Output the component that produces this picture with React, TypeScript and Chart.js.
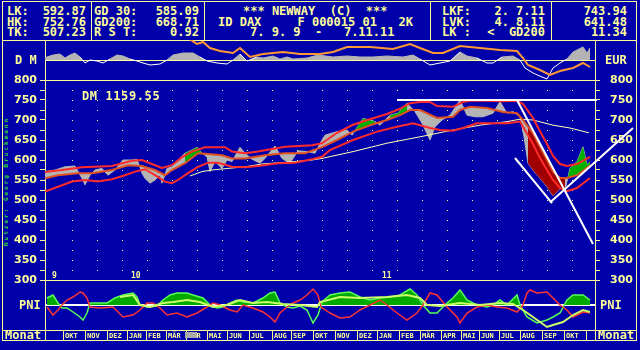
import React, { useEffect, useRef } from 'react';
import { Chart, registerables } from 'chart.js';

Chart.register(...registerables);

const BG = '#0000AA';
const FG = '#FFFF99';
const GRAY = '#B4B4B4';
const RED = '#FF2A2A';
const WHITE = '#FFFFFF';
const ORANGE = '#FF9933';
const CENTER = '#E05020';
const GREEN_FILL = '#00B000';
const CRASH = '#A00000';
const PALE = '#FFFFB0';
const MONO = '"DejaVu Sans Mono", monospace';

// ---------- main panel (x = trading day index from 7.9.2009) ----------
const priceDays = [0,10,20,30,37,40,45,50,57,63,70,78,87,92,97,100,105,110,115,117,122,127,133,140,147,152,157,162,165,170,177,182,187,195,200,207,215,220,230,237,245,253,262,270,277,280,292,302,307,318,330,335,345,353,362,370,377,385,390,397,405,415,422,430,438,448,455,462,468,475,479,483,488,495,502,508,515,520,525,532,538,542,545];
const priceVals = [571,575,583,585,554,538,562,575,579,562,575,600,600,602,567,554,542,550,562,542,579,583,600,617,625,632,617,608,571,596,579,600,596,632,617,602,592,604,635,604,592,623,621,617,650,662,671,675,662,704,696,687,712,717,742,721,692,650,683,700,712,750,712,708,708,717,746,717,721,708,658,592,575,554,533,510,529,525,579,596,633,587,596];

const centerDays = [0,13,33,47,67,83,97,110,120,127,140,153,163,177,187,200,220,240,260,277,292,308,325,342,355,365,375,392,408,415,425,442,458,472,478,488,495,502,508,515,522,532,545];
const centerVals = [554,562,567,567,575,587,585,575,562,575,592,617,615,612,604,604,612,617,617,632,650,671,687,700,712,725,725,705,708,725,733,730,720,717,700,667,633,600,571,555,555,562,586];

const upperDays = [0,17,37,67,87,97,110,117,127,137,147,160,180,187,200,213,230,240,267,277,292,308,325,342,355,365,375,385,392,408,418,425,442,458,472,478,488,495,502,508,515,522,532,545];
const upperVals = [570,575,582,585,598,600,587,580,587,607,621,632,632,621,617,621,629,633,637,642,668,688,702,715,728,742,745,745,735,733,745,748,748,747,748,740,705,672,640,610,590,585,590,608];

const lowerDays = [0,13,27,40,53,67,80,90,100,110,120,127,133,143,153,163,173,187,200,213,233,250,267,277,285,308,332,352,368,385,395,408,418,432,448,462,475,488,495,502,508,515,522,532,545];
const lowerVals = [521,533,546,550,546,552,562,571,577,562,546,542,550,567,583,593,593,583,582,585,592,593,602,608,625,650,671,683,692,680,675,673,680,692,692,692,696,640,605,575,550,530,522,530,555];

const gd200Days = [145,157,167,183,200,217,233,250,267,277,308,342,375,408,435,462,475,488,508,525,544];
const gd200Vals = [560,571,575,579,583,590,593,596,600,604,621,642,658,675,687,696,702,700,687,680,668];

const greenSpans = [[138,157],[286,296],[305,330],[340,366],[410,420],[520,546]];
const crashSpans = [[483,522]];

// white trend lines
const resistDays = [352, 552];
const resistVals = [750, 750];
const fallDays = [472, 548];
const fallVals = [750, 390];
const vLeftDays = [470, 507];
const vLeftVals = [605, 492];
const riseDays = [505, 588];
const riseVals = [494, 680];

// ---------- top panel (D M / EUR) ----------
const dmDays = [0,2,8,15,20,25,30,35,40,45,52,58,65,72,78,85,92,98,105,115,122,128,138,148,155,162,172,182,188,195,202,212,218,228,235,242,248,262,273,288,302,315,328,342,358,368,375,385,395,405,415,422,432,442,448,457,468,475,480,488,497,502,508,515,522,528,538,542,545];
const dmVals = [2,3,5,6,2,5,7,3,-3,0,-1,-3,1,5,4,1,-1,-3,-5,-4,0,5,7,7,3,-1,-3,-4,0,6,-1,3,2,4,1,3,1,2,5,3,4,3,3,4,3,5,1,-5,-3,-1,8,4,2,-3,-3,3,4,0,-8,-13,-17,-19,-8,-3,1,8,13,7,12];
const eurDays = [143,152,158,165,175,188,195,205,218,238,255,275,288,302,325,348,365,375,388,398,415,435,455,472,478,483,495,505,515,528,538,545];
const eurVals = [22,16,18,12,9,7,12,3,6,8,6,6,8,13,13,11,16,12,7,7,14,12,10,9,2,-5,-10,-15,-11,-8,-3,-7];

// ---------- PNI panel ----------
const pniGreenDays = [2,8,13,17,22,28,35,38,42,45,52,62,70,78,88,92,95,102,112,118,125,132,142,148,158,165,172,178,185,192,198,208,218,225,230,235,242,248,255,262,268,273,277,285,295,305,315,325,335,345,355,365,372,378,385,392,402,408,415,422,432,442,448,455,462,472,475,482,492,502,508,515,522,528,538,545];
const pniGreenVals = [7,10,2,-3,-3,-7,-12,-15,-8,2,2,2,7,10,12,8,0,-2,-1,5,10,12,12,10,7,0,-3,-2,2,5,3,2,7,12,13,2,-2,-3,-1,-5,-18,-10,3,10,12,13,8,5,7,8,10,16,10,0,-8,-8,2,7,15,5,0,-2,0,5,0,10,0,-12,-18,-15,-12,-8,5,10,10,5];
const pniRedDays = [2,8,13,17,22,28,35,38,42,45,55,68,78,88,95,102,108,115,122,132,142,152,162,168,175,185,192,198,208,218,225,230,235,242,248,255,262,268,273,276,285,295,305,315,325,335,342,352,362,372,378,385,392,402,412,415,422,432,442,452,462,472,478,482,485,492,502,508,515,522,528,538,545];
const pniRedVals = [-2,-10,-5,0,5,8,13,12,7,-2,-3,-2,-12,-10,-5,2,2,-3,-10,-8,-12,-8,-2,2,0,-5,-7,0,-3,-7,-12,-17,-8,-2,2,5,10,16,10,-2,-8,-13,-12,-5,0,5,0,-8,-15,-8,0,12,10,-2,-12,-18,-8,-2,0,-2,-3,-7,0,12,15,12,13,7,0,-5,-12,-7,-8];
const pniSigDays = [75,88,95,105,118,128,142,155,168,182,195,208,222,238,255,272,275,295,315,342,362,375,382,395,415,435,455,468,478,488,502,508,518,528,538,545];
const pniSigVals = [8,10,0,-2,2,3,5,3,-2,0,5,2,3,1,0,-2,3,8,7,8,10,7,0,-1,2,0,2,1,-5,-12,-22,-20,-17,-10,-5,-7];

// ---------- month row ----------
const monthStartDays = [18,40,62,82,101,121,141,162,182,204,227,246,268,290,312,332,354,375,396,416,434,454,475,497,519,541];
const monthNames = ['OKT','NOV','DEZ','JAN','FEB','MÄR','APR','MAI','JUN','JUL','AUG','SEP','OKT','NOV','DEZ','JAN','FEB','MÄR','APR','MAI','JUN','JUL','AUG','SEP','OKT',''];
const yearLabels = ['9', '10', '11'];
const yearDays = [7, 86, 337];

// header texts
const box1Labels = ['LK:', 'HK:', 'TK:'];
const box1Vals = ['592.87', '752.76', '507.23'];
const box2Labels = ['GD 30:', 'GD200:', 'R S T:'];
const box2Vals = ['585.09', '668.71', '0.92'];
const box4Labels = ['LKF:', 'LVK:', 'LK :'];
const box4Vals = ['2. 7.11', '4. 8.11', '<  GD200'];
const box5Vals = ['743.94', '641.48', '11.34'];

const pts = (xs: number[], ys: (number | null)[]) => xs.map((x, i) => ({ x, y: ys[i] }));
const inSpans = (d: number, spans: number[][]) => spans.some(([a, b]) => d >= a && d <= b);

const X0 = 45; // chart-area left edge
const dayPx = (d: number) => X0 + d; // 550 days across 550 px

function T(props: { x: number; b: number; s?: number; right?: boolean; color?: string; ls?: number; children: any; family?: string }) {
  const s = props.s ?? 12;
  const style: any = {
    position: 'absolute',
    top: props.b - 0.846 * s,
    fontSize: s,
    lineHeight: s + 'px',
    fontFamily: props.family ?? MONO,
    fontWeight: 'bold',
    color: props.color ?? FG,
    whiteSpace: 'pre',
    letterSpacing: props.ls ?? 0,
  };
  if (props.right) style.right = 640 - props.x; else style.left = props.x;
  return <div style={style}>{props.children}</div>;
}

const HL = (x1: number, x2: number, y: number, k: string) => (
  <div key={k} style={{ position: 'absolute', left: x1, top: y, width: x2 - x1 + 1, height: 1, background: FG }} />
);
const VL = (x: number, y1: number, y2: number, k: string) => (
  <div key={k} style={{ position: 'absolute', left: x, top: y1, width: 1, height: y2 - y1 + 1, background: FG }} />
);

const noPad = (s: any) => { s.paddingTop = 0; s.paddingBottom = 0; s.paddingLeft = 0; s.paddingRight = 0; };

export default function App() {
  const topRef = useRef<HTMLCanvasElement>(null);
  const mainRef = useRef<HTMLCanvasElement>(null);
  const pniRef = useRef<HTMLCanvasElement>(null);

  useEffect(() => {
    const charts: Chart[] = [];
    const line = (data: any[], color: string, width: number, extra: any = {}) => ({
      data, borderColor: color, borderWidth: width, pointRadius: 0, tension: 0, fill: false, ...extra,
    });
    const base: any = {
      responsive: false,
      animation: false,
      devicePixelRatio: 1,
      plugins: { legend: { display: false }, tooltip: { enabled: false } },
    };
    const tickFont = { family: '"DejaVu Sans", sans-serif', weight: 'bold' as const, size: 11 };

    // top panel
    charts.push(new Chart(topRef.current!, {
      type: 'line',
      data: {
        datasets: [
          line(pts(eurDays, eurVals), ORANGE, 2),
          line(pts(dmDays, dmVals), GRAY, 1, {
            fill: { target: 'origin', above: GRAY, below: 'rgba(0,0,0,0)' },
            segment: { borderColor: (c: any) => (c.p0.parsed.y < 0 || c.p1.parsed.y < 0 ? WHITE : GRAY) },
          }),
        ],
      },
      options: {
        ...base,
        layout: { padding: { left: 45, right: 45, top: 0, bottom: 0 } },
        scales: {
          x: { type: 'linear', min: 0, max: 550, display: false },
          y: {
            min: -20, max: 20,
            afterFit: (s: any) => { s.width = 0; noPad(s); },
            afterBuildTicks: (s: any) => { s.ticks = [{ value: 0 }]; },
            ticks: { display: false },
            grid: { color: FG, drawTicks: false, lineWidth: 1 },
            border: { display: false },
          },
        },
      } as any,
    }));

    // main panel
    const greenData = priceDays.map((d, i) => ({ x: d, y: inSpans(d, greenSpans) ? priceVals[i] : null }));
    const crashData = priceDays.map((d, i) => ({ x: d, y: inSpans(d, crashSpans) ? priceVals[i] : null }));
    const CENTER_IDX = 4;
    const yAxis = (pos: 'left' | 'right', pad: number) => ({
      position: pos,
      min: 300, max: 800,
      afterFit: (s: any) => { s.width = 45; noPad(s); },
      ticks: {
        stepSize: 25, autoSkip: false, color: FG, font: tickFont, padding: pad,
        callback: (v: any) => (v % 50 === 0 ? String(v) : ''),
      },
      grid: { drawOnChartArea: false, color: FG, tickLength: 5, drawTicks: true },
      border: { display: false },
    });
    charts.push(new Chart(mainRef.current!, {
      type: 'line',
      data: {
        datasets: [
          line(pts(resistDays, resistVals), WHITE, 2, { clip: false }),
          line(pts(fallDays, fallVals), WHITE, 2, { clip: false }),
          line(pts(vLeftDays, vLeftVals), WHITE, 2, { clip: false }),
          line(pts(riseDays, riseVals), WHITE, 2, { clip: false }),
          line(pts(centerDays, centerVals), CENTER, 2),
          line(pts(upperDays, upperVals), RED, 2),
          line(pts(lowerDays, lowerVals), RED, 2),
          line(pts(gd200Days, gd200Vals), PALE, 1),
          line(crashData, CRASH, 0, { spanGaps: false, fill: { target: CENTER_IDX, above: 'rgba(0,0,0,0)', below: CRASH } }),
          line(greenData, GREEN_FILL, 0, { spanGaps: false, fill: { target: CENTER_IDX, above: GREEN_FILL, below: 'rgba(0,0,0,0)' } }),
          line(pts(priceDays, priceVals), GRAY, 1, { fill: { target: CENTER_IDX, above: GRAY, below: GRAY } }),
        ],
      },
      options: {
        ...base,
        layout: { padding: { left: 0, right: 0, top: 10, bottom: 10 } },
        scales: {
          x: {
            type: 'linear', min: 0, max: 550,
            afterFit: (s: any) => { s.height = 0; noPad(s); },
            afterBuildTicks: (s: any) => { s.ticks = Array.from({ length: 21 }, (_, k) => ({ value: 27 + 25 * k })); },
            ticks: { display: false },
            grid: { color: FG, drawTicks: false, lineWidth: 1 },
            border: { display: false, dash: [1, 9] },
          },
          y: yAxis('left', 3),
          y2: yAxis('right', 10),
        },
      } as any,
    }));

    // PNI panel
    charts.push(new Chart(pniRef.current!, {
      type: 'line',
      data: {
        datasets: [
          line(pts(pniSigDays, pniSigVals), '#CCFF66', 2),
          line(pts(pniRedDays, pniRedVals), '#FF3333', 1.5),
          line(pts(pniGreenDays, pniGreenVals), '#55FF55', 1.5, {
            fill: { target: 'origin', above: '#00A800', below: 'rgba(0,0,0,0)' },
          }),
        ],
      },
      options: {
        ...base,
        layout: { padding: { left: 45, right: 45, top: 0, bottom: 0 } },
        scales: {
          x: { type: 'linear', min: 0, max: 550, display: false },
          y: {
            min: -25, max: 25,
            afterFit: (s: any) => { s.width = 0; noPad(s); },
            afterBuildTicks: (s: any) => { s.ticks = [{ value: 0 }]; },
            ticks: { display: false },
            grid: { color: WHITE, drawTicks: false, lineWidth: 2 },
            border: { display: false },
          },
        },
      } as any,
    }));

    return () => charts.forEach((c) => c.destroy());
  }, []);

  const rows = [15.5, 26, 36.5];
  const lines = [
    HL(2, 636, 1, 'h1'), HL(2, 636, 40, 'h2'), HL(45, 595, 80, 'h3'), HL(45, 595, 280, 'h4'),
    HL(2, 636, 330, 'h5'), HL(2, 636, 340, 'h6'),
    VL(2, 1, 340, 'v1'), VL(636, 1, 340, 'v2'), VL(91, 1, 40, 'v3'), VL(204, 1, 40, 'v4'),
    VL(430, 1, 40, 'v5'), VL(551, 1, 40, 'v6'), VL(45, 40, 340, 'v7'), VL(595, 40, 340, 'v8'),
    ...monthStartDays.map((d, i) => VL(dayPx(d), 330, 340, 'm' + i)),
  ];

  return (
    <div style={{ position: 'fixed', left: 0, top: 0, width: 640, height: 350, background: BG, overflow: 'hidden' }}>
      {lines}
      <canvas ref={topRef} width={640} height={40} style={{ position: 'absolute', left: 0, top: 40 }} />
      <canvas ref={mainRef} width={640} height={220} style={{ position: 'absolute', left: 0, top: 70 }} />
      <canvas ref={pniRef} width={640} height={50} style={{ position: 'absolute', left: 0, top: 280 }} />

      {rows.map((b, i) => (
        <React.Fragment key={'r' + i}>
          <T x={7} b={b}>{box1Labels[i]}</T>
          <T x={86} b={b} right>{box1Vals[i]}</T>
          <T x={94} b={b}>{box2Labels[i]}</T>
          <T x={199} b={b} right>{box2Vals[i]}</T>
          <T x={442} b={b}>{box4Labels[i]}</T>
          <T x={545} b={b} right>{box4Vals[i]}</T>
          <T x={627} b={b} right>{box5Vals[i]}</T>
        </React.Fragment>
      ))}
      <T x={243} b={rows[0]}>{'*** NEWWAY  (C)  ***'}</T>
      <T x={218} b={rows[1]}>{'ID DAX     F 000015 01   2K'}</T>
      <T x={250} b={rows[2]}>{'7. 9. 9  -   7.11.11'}</T>

      <T x={15} b={64}>{'D M'}</T>
      <T x={605} b={64}>{'EUR'}</T>
      <T x={82} b={100} ls={0.6}>{'DM 1159.55'}</T>
      <T x={19} b={309}>{'PNI'}</T>
      <T x={600} b={309}>{'PNI'}</T>
      <T x={5} b={339.5}>{'Monat'}</T>
      <T x={598} b={339.5}>{'Monat'}</T>

      {yearLabels.map((t, i) => (
        <T key={'y' + i} x={dayPx(yearDays[i])} b={279} s={8} color={FG}>{t}</T>
      ))}
      {monthNames.map((t, i) => (
        <T key={'mn' + i} x={dayPx(monthStartDays[i]) + 2} b={338.5} s={7}>{t}</T>
      ))}
      <div style={{ position: 'absolute', left: 185, top: 332, width: 12, height: 6, background: '#AAAAAA' }} />

      <div style={{
        position: 'absolute', left: 3, bottom: 350 - 246, writingMode: 'vertical-rl', transform: 'rotate(180deg)',
        fontFamily: MONO, fontWeight: 'bold', fontSize: 6, lineHeight: '6px', color: '#33DD33', whiteSpace: 'pre',
        letterSpacing: 2,
      }}>{'Nutzer: Georg Bruckmann'}</div>
    </div>
  );
}
